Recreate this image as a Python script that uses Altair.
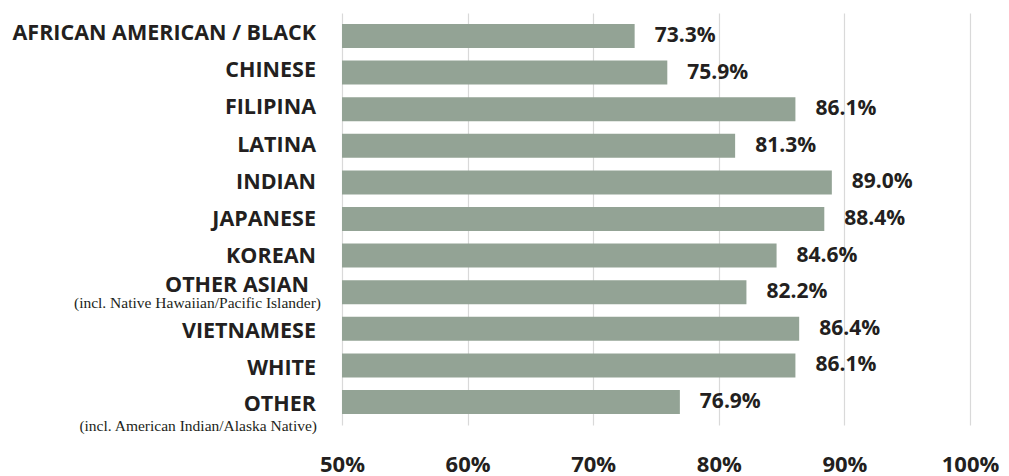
import altair as alt
import pandas as pd

categories = ["AFRICAN AMERICAN / BLACK", "CHINESE", "FILIPINA", "LATINA", "INDIAN",
              "JAPANESE", "KOREAN", "OTHER ASIAN", "VIETNAMESE", "WHITE", "OTHER"]
subtitles = ["", "", "", "", "", "", "", "(incl. Native Hawaiian/Pacific Islander)",
             "", "", "(incl. American Indian/Alaska Native)"]
values = [73.3, 75.9, 86.1, 81.3, 89.0, 88.4, 84.6, 82.2, 86.4, 86.1, 76.9]
x_ticks = [50, 60, 70, 80, 90, 100]

df = pd.DataFrame({"cat": categories, "sub": subtitles, "value": values})
df["label"] = df["value"].map(lambda v: f"{v:.1f}%")

BAR = "#93a395"
TXT = "#231f20"
FONT = "Open Sans"

xscale = alt.Scale(domain=[50, 100], zero=False, nice=False, clamp=True)
x_axis = alt.Axis(values=x_ticks, labelExpr="datum.value + '%'", grid=True,
                  gridColor="#d9d9d9", gridWidth=1.2, domain=False, ticks=False,
                  labelFlush=False, labelFont=FONT, labelFontSize=22,
                  labelFontWeight="bold", labelColor=TXT, labelPadding=29,
                  title=None)
yband = alt.Scale(domain=categories, paddingInner=0.344, paddingOuter=0.30)
ylab = alt.Scale(type="point", domain=categories, padding=0.54)

base = alt.Chart(df)

bars = base.mark_bar(color=BAR).encode(
    x=alt.X("value:Q", scale=xscale, axis=x_axis),
    y=alt.Y("cat:N", scale=yband, axis=None),
)
vals = base.mark_text(align="left", baseline="middle", dx=20, font=FONT,
                      fontSize=21, fontWeight="bold", color=TXT).encode(
    x=alt.X("value:Q", scale=xscale, axis=x_axis),
    y=alt.Y("cat:N", scale=yband, axis=None),
    text="label:N",
)


def label_text(flt, field, xpos, dy, serif=False):
    if serif:
        mk = dict(font="Liberation Serif", fontSize=15.5)
    else:
        mk = dict(font=FONT, fontSize=21.5, fontWeight="bold")
    return base.transform_filter(flt).mark_text(
        align="right", baseline="middle", color=TXT, dy=dy, **mk).encode(
        x=alt.value(xpos),
        y=alt.Y("cat:N", scale=ylab, axis=None),
        text=f"{field}:N",
    )


plain = label_text("datum.sub == ''", "cat", -26, 1)
f_a = f"datum.cat == '{categories[7]}'"
f_b = f"datum.cat == '{categories[10]}'"
main_a = label_text(f_a, "cat", -33, -7)
sub_a = label_text(f_a, "sub", -21, 10, serif=True)
main_b = label_text(f_b, "cat", -26, 0)
sub_b = label_text(f_b, "sub", -25, 21, serif=True)

bar_layer = alt.layer(bars, vals)
label_layer = alt.layer(plain, main_a, sub_a, main_b, sub_b)

chart = alt.layer(bar_layer, label_layer).resolve_scale(y="independent").properties(
    width=628, height=412,
    background="white",
    autosize=alt.AutoSizeParams(type="none"),
    padding={"left": 334, "top": 5, "right": 31, "bottom": 51},
).configure_view(stroke="transparent", strokeWidth=0)

chart.save("out.html", embed_options={"renderer": "svg", "actions": False})
